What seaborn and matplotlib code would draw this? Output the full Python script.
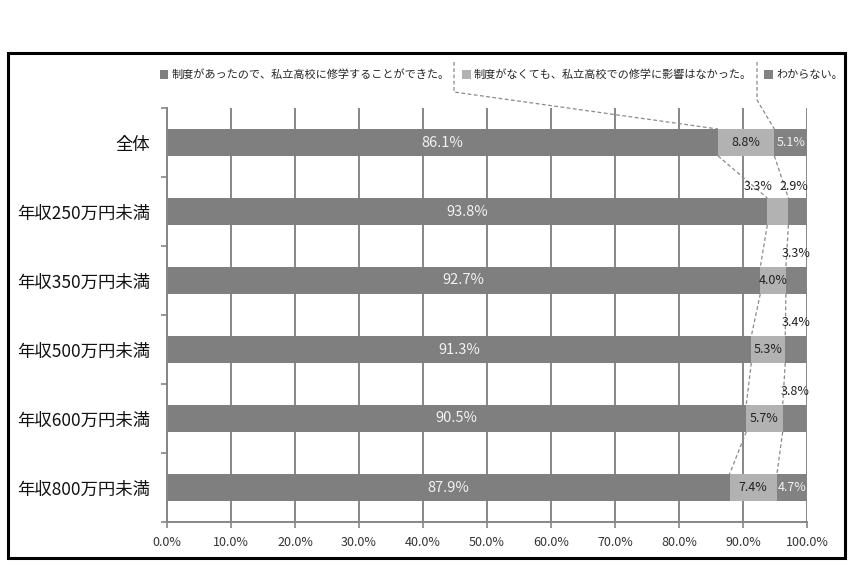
import numpy as np
import pandas as pd
import matplotlib
matplotlib.use('Agg')
import matplotlib.pyplot as plt
from matplotlib.patches import Patch, Rectangle
from matplotlib.lines import Line2D
import seaborn as sns

sns.set_style('white')
plt.rcParams['font.family'] = ['Noto Sans CJK JP', 'DejaVu Sans']

# Data
categories = ['全体', '年収250万円未満', '年収350万円未満', '年収500万円未満', '年収600万円未満', '年収800万円未満']
could_attend = [86.1, 93.8, 92.7, 91.3, 90.5, 87.9]
no_effect = [8.8, 3.3, 4.0, 5.3, 5.7, 7.4]
unknown = [5.1, 2.9, 3.3, 3.4, 3.8, 4.7]
series_names = ['制度があったので、私立高校に修学することができた。',
                '制度がなくても、私立高校での修学に影響はなかった。',
                'わからない。']
xticks = [0, 10, 20, 30, 40, 50, 60, 70, 80, 90, 100]

colors = ['#7f7f7f', '#b2b2b2', '#828282']
grid_col = '#868686'

df = pd.DataFrame({'cat': categories, 'a': could_attend, 'b': no_effect, 'c': unknown})
df['cum1'] = df['a']
df['cum2'] = df['a'] + df['b']
df['total'] = df['a'] + df['b'] + df['c']

W, H = 851, 565
fig = plt.figure(figsize=(W / 100, H / 100), dpi=100)
ax = fig.add_axes([167 / W, 1 - 522 / H, 640 / W, 414 / H])

bar_w = 0.39
# stacked bars: draw cumulative totals back to front
for col, c in [('total', colors[2]), ('cum2', colors[1]), ('cum1', colors[0])]:
    sns.barplot(data=df, x=col, y='cat', orient='h', color=c, saturation=1, width=bar_w,
                linewidth=0, edgecolor='none', ax=ax)

ax.set_xlim(0, 100)
ax.set_ylim(len(categories) - 0.5, -0.5)
ax.set_xlabel('')
ax.set_ylabel('')
ax.set_axisbelow(True)
ax.xaxis.grid(True, color=grid_col, lw=1.4)
ax.yaxis.grid(False)
ax.set_xticks(xticks)
ax.set_xticklabels([f'{v:.1f}%' for v in xticks], fontsize=9, color='#333333')
ax.tick_params(axis='x', direction='out', length=4, width=1.2, color=grid_col, pad=6, bottom=True)
ax.tick_params(axis='y', which='major', length=0, pad=12, labelsize=12.5, labelcolor='#111111')
ax.set_yticks(np.arange(-0.5, len(categories) + 0.5), minor=True)
ax.tick_params(axis='y', which='minor', direction='out', length=4, width=1.2, color=grid_col, left=True)
for s in ['top', 'right']:
    ax.spines[s].set_visible(False)
for s in ['left', 'bottom']:
    ax.spines[s].set_color(grid_col)
    ax.spines[s].set_linewidth(1.4)

# series lines between bars
for i in range(len(categories) - 1):
    for col in ['cum1', 'cum2']:
        ax.plot([df[col][i], df[col][i + 1]], [i + bar_w / 2, i + 1 - bar_w / 2],
                ls=(0, (3, 2)), color='#8a8a8a', lw=0.9, zorder=3)

# value labels
for i in range(len(categories)):
    a, b, c = df['a'][i], df['b'][i], df['c'][i]
    ax.text(a / 2, i, f'{a:.1f}%', ha='center', va='center', fontsize=10.5, color='#f2f2f2', zorder=4)
    b_in = b >= 4.0
    c_in = c >= 4.5
    if b_in:
        ax.text(a + b / 2, i, f'{b:.1f}%', ha='center', va='center', fontsize=9, color='#222222', zorder=4)
    else:
        ax.annotate(f'{b:.1f}%', (a + b / 2, i - bar_w / 2), xytext=(-14, 8), textcoords='offset points',
                    ha='center', va='center', fontsize=9, color='#222222')
    if c_in:
        ax.text(a + b + c / 2, i, f'{c:.1f}%', ha='center', va='center', fontsize=9, color='#f2f2f2', zorder=4)
    else:
        dx = -3 if not b_in else 0
        ax.annotate(f'{c:.1f}%', (a + b + c / 2, i - bar_w / 2), xytext=(dx, 8 if not b_in else 10),
                    textcoords='offset points', ha='center', va='center', fontsize=9, color='#222222')

# legend
handles = [Patch(facecolor=colors[k], edgecolor='none') for k in range(3)]
fig.legend(handles, series_names, loc='center left', bbox_to_anchor=(160 / W, 1 - 75 / H), ncol=3,
           frameon=False, fontsize=8, handlelength=0.75, handleheight=0.75, handletextpad=0.3,
           columnspacing=1.12, borderaxespad=0, borderpad=0)

# leader lines from the legend to the first bar
fig.canvas.draw()
inv = fig.transFigure.inverted()
for col, lx, ly in [('cum1', 454, 92), ('cum2', 757, 100)]:
    end = inv.transform(ax.transData.transform((df[col][0], -bar_w / 2)))
    xs = [lx / W, lx / W, end[0]]
    ys = [1 - 62 / H, 1 - ly / H, end[1]]
    fig.add_artist(Line2D(xs, ys, transform=fig.transFigure, ls=(0, (3, 2)), color='#8a8a8a', lw=0.9))

# outer frame
fig.add_artist(Rectangle((8 / W, 1 - 558 / H), 837 / W, 505 / H, transform=fig.transFigure,
                         fill=False, edgecolor='black', lw=2.2))

fig.savefig('out.png', dpi=100)
